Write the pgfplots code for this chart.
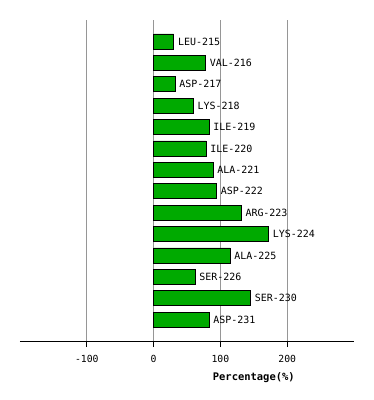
\documentclass[border=0pt]{standalone}
\usepackage{pgfplots}
\pgfplotsset{compat=1.18}
\usepackage{pgfplotstable}
\usepackage{fontspec}
\setmainfont{DejaVu Sans}
\newfontfamily\monofont{DejaVu Sans Mono}
\definecolor{bargreen}{RGB}{0,170,0}
\definecolor{gridgray}{RGB}{150,150,150}
\pgfplotstableread{
y x label
1 30 LEU-215
2 77.5 VAL-216
3 32 ASP-217
4 59.5 LYS-218
5 83 ILE-219
6 78.5 ILE-220
7 89 ALA-221
8 94 ASP-222
9 131 ARG-223
10 172 LYS-224
11 114.5 ALA-225
12 62 SER-226
13 145 SER-230
14 83 ASP-231
}\datatable
\begin{document}
\begin{tikzpicture}
\useasboundingbox (-20bp,-59bp) rectangle (354bp,341bp);
\begin{axis}[
  at={(0,0)}, anchor=south west,
  scale only axis,
  width=334bp, height=321bp,
  xmin=-200, xmax=300,
  ymin=0, ymax=15,
  y dir=reverse,
  axis x line=bottom,
  axis y line=none,
  x axis line style={-, black, line width=0.8pt},
  xtick={-100,0,100,200},
  xticklabels={-100,0,100,200},
  xticklabel style={font=\monofont\fontsize{9.8}{11}\selectfont, yshift=-5bp},
  tick align=outside,
  major tick length=6bp,
  major tick style={black, line width=0.8pt},
  xmajorgrids,
  major grid style={gridgray, line width=0.8pt},
  ytick=\empty,
  xlabel={\textbf{Percentage(\%)}},
  xlabel style={font=\monofont\fontsize{10.5}{12}\selectfont\bfseries, at={(axis description cs:0.70,0)}, anchor=north, yshift=-28bp},
  clip=false,
]
\addplot[xbar, bar width=15bp, fill=bargreen, draw=black, line width=0.8pt,
  point meta=explicit symbolic,
  nodes near coords,
  every node near coord/.style={anchor=west, inner sep=0pt, xshift=4bp, font=\monofont\fontsize{10}{12}\selectfont, black},
] table[x=x, y=y, meta=label] {\datatable};
\end{axis}
\end{tikzpicture}
\end{document}
